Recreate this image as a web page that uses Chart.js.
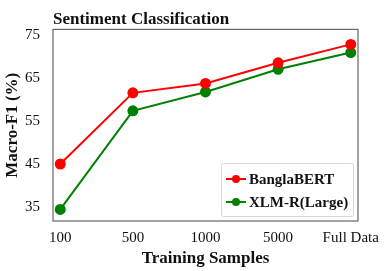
<!DOCTYPE html>
<html>
<head>
<meta charset="utf-8">
<script src="https://cdn.jsdelivr.net/npm/chart.js@4.4.1/dist/chart.umd.min.js"></script>
<style>
  html, body { margin: 0; padding: 0; background: #fff; }
  #wrap { width: 390px; height: 271px; }
</style>
</head>
<body>
<div id="wrap"><canvas id="c" width="390" height="271"></canvas></div>
<script>
const samples    = ["100", "500", "1000", "5000", "Full Data"];
const banglaBert = [45.0, 61.6, 63.8, 68.6, 72.9];
const xlmR       = [34.4, 57.4, 61.8, 67.1, 71.0];
const yTicks     = [35, 45, 55, 65, 75];

const FONT = "'Liberation Serif', 'DejaVu Serif', serif";
const series = [
  { label: "BanglaBERT",   data: banglaBert, color: "#ff0000" },
  { label: "XLM-R(Large)", data: xlmR,       color: "#008000" },
];

// frame around plot area + in-plot legend
const framePlugin = {
  id: "frame",
  afterDraw(chart) {
    const { ctx, chartArea: a } = chart;
    ctx.save();
    ctx.strokeStyle = "#666"; ctx.lineWidth = 1.2;
    ctx.strokeRect(a.left, a.top, a.right - a.left, a.bottom - a.top);

    const bx = 221, by = 163, bw = 132, bh = 53;
    ctx.fillStyle = "rgba(255,255,255,0.9)";
    ctx.strokeStyle = "#d8d8d8"; ctx.lineWidth = 1;
    ctx.beginPath(); ctx.roundRect(bx + 0.5, by + 0.5, bw, bh, 2); ctx.fill(); ctx.stroke();

    ctx.font = "bold 15px " + FONT;
    ctx.textBaseline = "middle";
    series.forEach((s, i) => {
      const y = by + 16 + i * 23;
      ctx.strokeStyle = s.color; ctx.lineWidth = 2;
      ctx.beginPath(); ctx.moveTo(bx + 5, y); ctx.lineTo(bx + 25, y); ctx.stroke();
      ctx.fillStyle = s.color;
      ctx.beginPath(); ctx.arc(bx + 15, y, 4, 0, Math.PI * 2); ctx.fill();
      ctx.fillStyle = "#111";
      ctx.fillText(s.label, bx + 28, y + 1);
    });
    ctx.restore();
  },
};

new Chart(document.getElementById("c"), {
  type: "line",
  data: {
    datasets: series.map(s => ({
      label: s.label,
      data: s.data.map((v, i) => ({ x: i, y: v })),
      borderColor: s.color, backgroundColor: s.color,
      borderWidth: 2, pointRadius: 4.5, pointHoverRadius: 4.5, tension: 0,
    })),
  },
  options: {
    responsive: false, animation: false,
    layout: { padding: { left: 0, right: 32, top: 0, bottom: 0 } },
    plugins: {
      legend: { display: false },
      tooltip: { enabled: false },
      title: {
        display: true, text: "Sentiment Classification", align: "start", fullSize: false,
        color: "#111", font: { family: FONT, size: 17, weight: "bold" },
        padding: { top: 9, bottom: 0 },
      },
    },
    scales: {
      x: {
        type: "linear", min: -0.1, max: 4.1,
        grid: { display: false }, border: { display: false },
        afterBuildTicks: s => { s.ticks = samples.map((_, i) => ({ value: i })); },
        afterFit: s => { s.height = 50; },
        ticks: {
          callback: v => samples[v] ?? "", color: "#111", padding: 0,
          maxRotation: 0, autoSkip: false, font: { family: FONT, size: 15 },
        },
        title: {
          display: true, text: "Training Samples", color: "#111",
          font: { family: FONT, size: 17, weight: "bold" }, padding: { top: 4, bottom: 2 },
        },
      },
      y: {
        min: 31.7, max: 76.4,
        grid: { display: false }, border: { display: false },
        afterBuildTicks: s => { s.ticks = yTicks.map(v => ({ value: v })); },
        afterFit: s => { s.width = 53; },
        ticks: { color: "#111", padding: 5, font: { family: FONT, size: 15 } },
        title: {
          display: true, text: "Macro-F1 (%)", color: "#111",
          font: { family: FONT, size: 17, weight: "bold" }, padding: { top: 2, bottom: 0 },
        },
      },
    },
  },
  plugins: [framePlugin],
});
</script>
</body>
</html>
